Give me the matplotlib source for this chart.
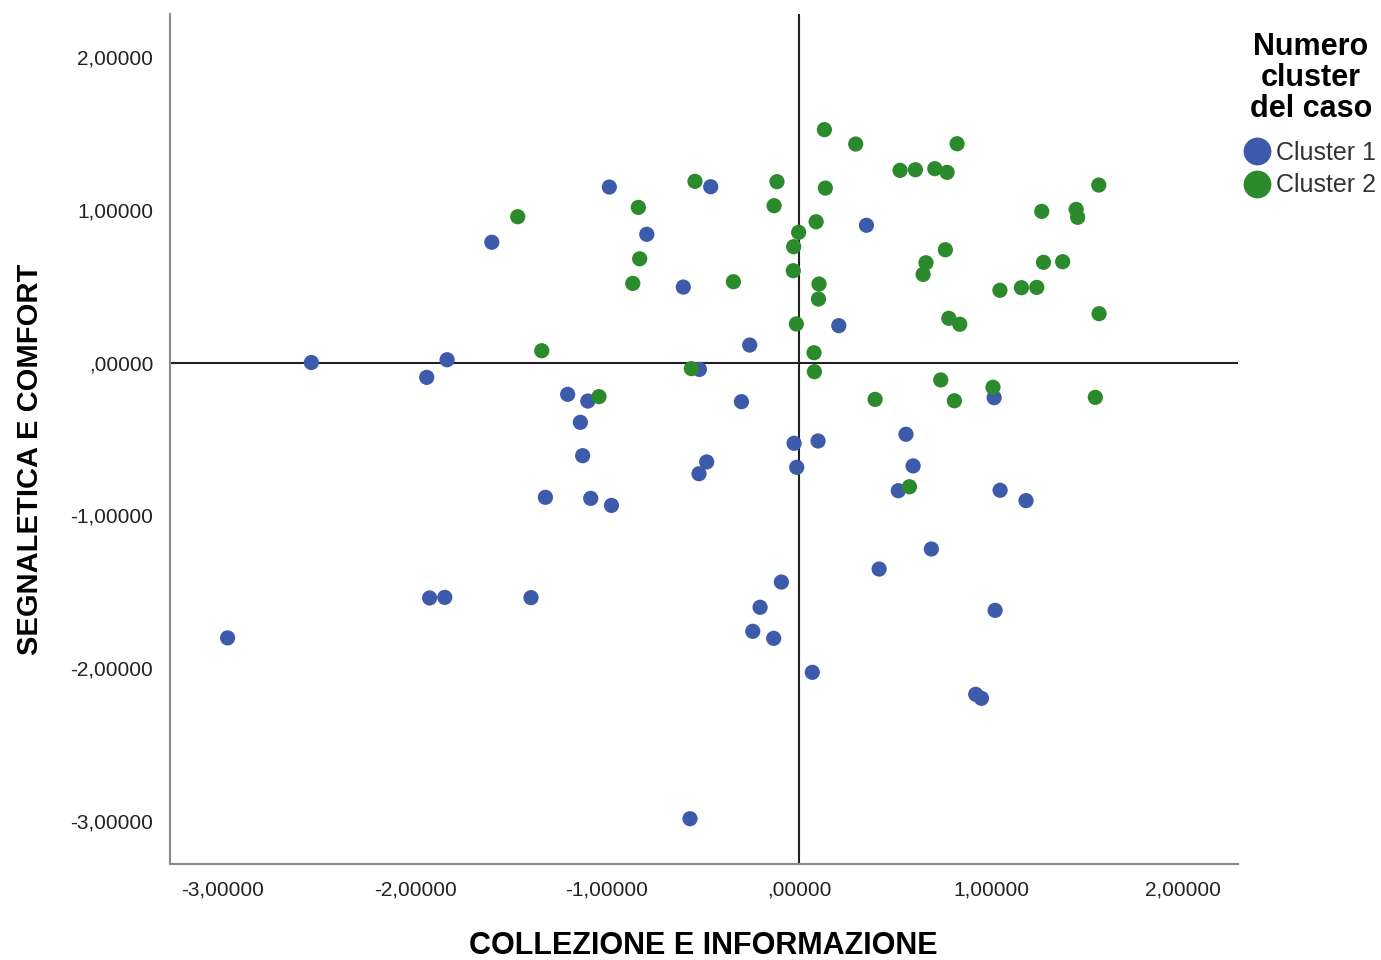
import matplotlib.pyplot as plt
from matplotlib.lines import Line2D

# cluster 1 (blue) - collezione e informazione / segnaletica e comfort
c1_x = [-0.988, -1.60, -2.54, -1.833, -1.939, -1.205, -1.10, -1.139, -1.127, -1.321,
        -1.085, -0.977, -1.924, -1.845, -1.396, -2.976, -0.46, 0.351, -0.793, -0.603,
        0.207, -0.257, -0.519, 1.016, -0.30, 0.557, -0.026, 0.099, -0.481, -0.521,
        -0.012, 0.594, 0.517, 1.047, 1.182, 0.689, 0.417, -0.092, -0.203, 1.021,
        -0.241, -0.132, 0.069, 0.92, 0.95, -0.568]
c1_y = [1.147, 0.786, 0.00, 0.018, -0.097, -0.208, -0.252, -0.391, -0.609, -0.881,
        -0.888, -0.934, -1.539, -1.535, -1.537, -1.80, 1.149, 0.897, 0.838, 0.493,
        0.241, 0.114, -0.045, -0.23, -0.256, -0.469, -0.528, -0.513, -0.65, -0.727,
        -0.685, -0.676, -0.838, -0.835, -0.903, -1.219, -1.35, -1.435, -1.60, -1.62,
        -1.757, -1.803, -2.025, -2.169, -2.195, -2.982]

# cluster 2 (green)
c2_x = [-1.465, -1.34, -1.042, 0.132, 0.295, 0.823, 0.526, 0.606, 0.707, 0.771,
        -0.542, -0.115, 0.137, -0.837, -0.13, 0.089, -0.002, -0.028, -0.83, -0.03,
        0.762, 0.661, 0.646, 1.046, -0.866, -0.342, 0.104, 0.101, 0.78, 0.837,
        -0.014, 0.078, -0.561, 0.08, 0.738, 1.01, 0.396, 0.809, 1.561, 1.264,
        1.443, 1.451, 1.273, 1.373, 1.158, 1.238, 1.5625, 1.543, 0.575]
c2_y = [0.953, 0.077, -0.223, 1.522, 1.428, 1.43, 1.256, 1.26, 1.267, 1.243,
        1.184, 1.182, 1.14, 1.014, 1.025, 0.92, 0.851, 0.757, 0.678, 0.60,
        0.737, 0.652, 0.576, 0.472, 0.517, 0.528, 0.513, 0.415, 0.289, 0.25,
        0.252, 0.064, -0.04, -0.06, -0.114, -0.162, -0.241, -0.25, 1.16, 0.988,
        1.001, 0.949, 0.655, 0.659, 0.489, 0.491, 0.319, -0.228, -0.812]

ticks = [-3, -2, -1, 0, 1, 2]
tick_labels = ['-3,00000', '-2,00000', '-1,00000', ',00000', '1,00000', '2,00000']

blue = '#3d5aab'
green = '#2b8a2b'
fam = ['Liberation Sans', 'DejaVu Sans']

fig = plt.figure(figsize=(13.81, 9.60), dpi=100)
ax = fig.add_axes([170/1381, 96/960, 1068/1381, 850/960])

ax.axhline(0, color='#222222', lw=1.5, zorder=1)
ax.axvline(0, color='#222222', lw=1.5, zorder=1)
ax.scatter(c1_x, c1_y, s=120, color=blue, edgecolors='none', zorder=3)
ax.scatter(c2_x, c2_y, s=120, color=green, edgecolors='none', zorder=3)

ax.set_xlim(-3.276, 2.286)
ax.set_ylim(-3.278, 2.278)
ax.set_xticks(ticks)
ax.set_xticklabels(tick_labels)
ax.set_yticks(ticks)
ax.set_yticklabels(tick_labels)
ax.tick_params(length=0, labelsize=15, colors='#222222', pad=12)
for lab in ax.get_xticklabels() + ax.get_yticklabels():
    lab.set_family(fam)

for s in ['top', 'right']:
    ax.spines[s].set_visible(False)
for s in ['left', 'bottom']:
    ax.spines[s].set_color('#8a8a8a')
    ax.spines[s].set_linewidth(1.5)

lbl_font = dict(family=fam, weight='bold', size=22, color='black')
fig.text(703/1381, 1 - 946/960, 'COLLEZIONE E INFORMAZIONE', ha='center', va='center', **lbl_font)
fig.text(30/1381, 1 - 459/960, 'SEGNALETICA E COMFORT', ha='center', va='center',
         rotation=90, family=fam, weight='bold', size=21)

# legend title drawn separately so it can be centred
fig.text(1311/1381, 1 - 78/960, 'Numero\ncluster\ndel caso', ha='center', va='center',
         multialignment='center', linespacing=1.05, family=fam, weight='bold', size=22)

handles = [Line2D([], [], marker='o', ls='', color=blue, markersize=19),
           Line2D([], [], marker='o', ls='', color=green, markersize=19)]
leg = fig.legend(handles, ['Cluster 1', 'Cluster 2'],
                 loc='upper left', bbox_to_anchor=(1244/1381, 1 - 141/960), frameon=False,
                 borderaxespad=0, borderpad=0, handlelength=1.0, handletextpad=0.26,
                 labelspacing=0.33, prop={'family': fam, 'size': 18})
for t in leg.get_texts():
    t.set_color('#333333')

fig.savefig('out.png', dpi=100)
